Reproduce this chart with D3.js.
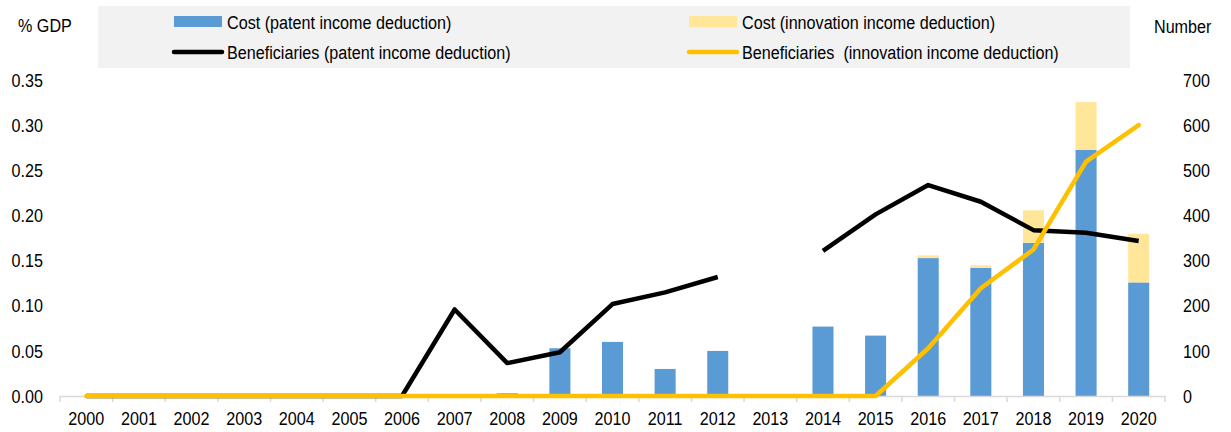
<!DOCTYPE html>
<html>
<head>
<meta charset="utf-8">
<script src="https://cdn.jsdelivr.net/npm/d3@7"></script>
<style>
  body { margin: 0; background: #fff; }
  text { font-family: "Liberation Sans", Arial, sans-serif; font-size: 19px; fill: #000; }
</style>
</head>
<body>
<div id="chart"></div>
<script>
width = 1231
height = 432

// data
let years = ["2000", "2001", "2002", "2003", "2004", "2005", "2006", "2007", "2008", "2009", "2010",
    "2011", "2012", "2013", "2014", "2015", "2016", "2017", "2018", "2019", "2020"]
let costPatent = [0, 0, 0, 0, 0, 0, 0, 0, 0.003, 0.053, 0.060, 0.030, 0.050, 0, 0.077, 0.067, 0.153, 0.142, 0.170, 0.273, 0.126]
let costInnovation = [0, 0, 0, 0, 0, 0, 0, 0, 0, 0, 0, 0, 0, 0, 0, 0, 0.003, 0.003, 0.036, 0.053, 0.054]
let benPatent = [0, 0, 0, 0, 0, 0, 0, 192, 73, 97, 204, 230, 264, null, 322, 403, 468, 431, 368, 362, 344]
let benInnovation = [0, 0, 0, 0, 0, 0, 0, 0, 0, 0, 0, 0, 0, 0, 0, 0, 106, 239, 325, 520, 601]
let leftTicks = [0, 0.05, 0.10, 0.15, 0.20, 0.25, 0.30, 0.35]
let rightTicks = [0, 100, 200, 300, 400, 500, 600, 700]

let blue = "#5b9bd5"
let paleYellow = "#ffe699"
let gold = "#ffc000"

let svg = d3.select("#chart")
    .append("svg")
    .attr("width", width)
    .attr("height", height)

let x = d3.scaleBand().domain(years).range([60, 1165])
let yLeft = d3.scaleLinear().domain([0, 0.35]).range([396, 80.5])
let yRight = d3.scaleLinear().domain([0, 700]).range([396, 80.5])

// legend box
let legend = svg.append("g")
legend.append("rect")
    .attr("x", 98).attr("y", 6)
    .attr("width", 1032).attr("height", 62)
    .attr("fill", "#f2f2f2")

let legendItems = [
    { label: "Cost (patent income deduction)", kind: "bar", color: blue, x: 174, y: 22 },
    { label: "Beneficiaries (patent income deduction)", kind: "line", color: "#000", x: 174, y: 52 },
    { label: "Cost (innovation income deduction)", kind: "bar", color: paleYellow, x: 689, y: 22 },
    { label: "Beneficiaries  (innovation income deduction)", kind: "line", color: gold, x: 689, y: 52 }
]

legendItems.forEach(item => {
    if (item.kind == "bar") {
        legend.append("rect")
            .attr("x", item.x).attr("y", item.y - 6)
            .attr("width", 48).attr("height", 11)
            .attr("fill", item.color)
    } else {
        legend.append("line")
            .attr("x1", item.x).attr("x2", item.x + 48)
            .attr("y1", item.y).attr("y2", item.y)
            .attr("stroke", item.color)
            .attr("stroke-width", 4.5)
            .attr("stroke-linecap", "round")
    }
    legend.append("text")
        .attr("x", item.x + 53)
        .attr("y", item.y)
        .attr("dy", "0.35em")
        .style("white-space", "pre")
        .text(item.label)
})

// axis titles
svg.append("text").attr("x", 18).attr("y", 25).attr("dy", "0.35em").text("% GDP")
svg.append("text").attr("x", 1154).attr("y", 26).attr("dy", "0.35em").text("Number")

// y axes (labels only)
let leftAxis = svg.append("g")
    .attr("transform", "translate(43,0)")
    .call(d3.axisLeft(yLeft).tickValues(leftTicks).tickSize(0).tickPadding(0).tickFormat(d3.format(".2f")))
let rightAxis = svg.append("g")
    .attr("transform", "translate(1183,0)")
    .call(d3.axisRight(yRight).tickValues(rightTicks).tickSize(0).tickPadding(0))
;[leftAxis, rightAxis].forEach(a => {
    a.select(".domain").remove()
    a.attr("font-family", null).attr("font-size", null)
})

// bars
let barW = x.bandwidth() * 0.4
let bars = svg.append("g")
bars.selectAll(".patent")
    .data(years)
    .join("rect")
    .attr("class", "patent")
    .attr("x", d => x(d) + (x.bandwidth() - barW) / 2)
    .attr("width", barW)
    .attr("y", (d, i) => yLeft(costPatent[i]))
    .attr("height", (d, i) => yLeft(0) - yLeft(costPatent[i]))
    .attr("fill", blue)
bars.selectAll(".innov")
    .data(years)
    .join("rect")
    .attr("class", "innov")
    .attr("x", d => x(d) + (x.bandwidth() - barW) / 2)
    .attr("width", barW)
    .attr("y", (d, i) => yLeft(costPatent[i] + costInnovation[i]))
    .attr("height", (d, i) => yLeft(costPatent[i]) - yLeft(costPatent[i] + costInnovation[i]))
    .attr("fill", paleYellow)

// x axis
let xAxis = svg.append("g")
    .attr("transform", "translate(0,396)")
    .call(d3.axisBottom(x).tickSize(0).tickPadding(15))
xAxis.attr("font-family", null).attr("font-size", null)
xAxis.select(".domain").attr("stroke", "#d9d9d9").attr("stroke-width", 1.5)
xAxis.selectAll("text").attr("dy", "0.35em").attr("y", 22)
xAxis.selectAll(".boundary")
    .data(years.concat(["end"]))
    .join("line")
    .attr("class", "boundary")
    .attr("x1", (d, i) => i < years.length ? x(d) : x.range()[1])
    .attr("x2", (d, i) => i < years.length ? x(d) : x.range()[1])
    .attr("y1", 0).attr("y2", 6)
    .attr("stroke", "#d9d9d9")
    .attr("stroke-width", 1.5)

// lines
let cx = d => x(d) + x.bandwidth() / 2
let patentLine = d3.line()
    .defined((d, i) => benPatent[i] != null)
    .x(d => cx(d))
    .y((d, i) => yRight(benPatent[i]))
let innovLine = d3.line()
    .x(d => cx(d))
    .y((d, i) => yRight(benInnovation[i]))

svg.append("path")
    .attr("d", patentLine(years))
    .attr("fill", "none")
    .attr("stroke", "#000")
    .attr("stroke-width", 4.5)
    .attr("stroke-linejoin", "round")
svg.append("path")
    .attr("d", innovLine(years))
    .attr("fill", "none")
    .attr("stroke", gold)
    .attr("stroke-width", 4.5)
    .attr("stroke-linejoin", "round")
    .attr("stroke-linecap", "round")

// no narrow font installed: squeeze every label horizontally around its anchor
svg.selectAll("text").each(function () {
    let t = d3.select(this)
    let tx = +t.attr("x") || 0
    let ty = +t.attr("y") || 0
    t.attr("transform", `translate(${tx},${ty}) scale(0.85,1) translate(${-tx},${-ty})`)
})
</script>
</body>
</html>
